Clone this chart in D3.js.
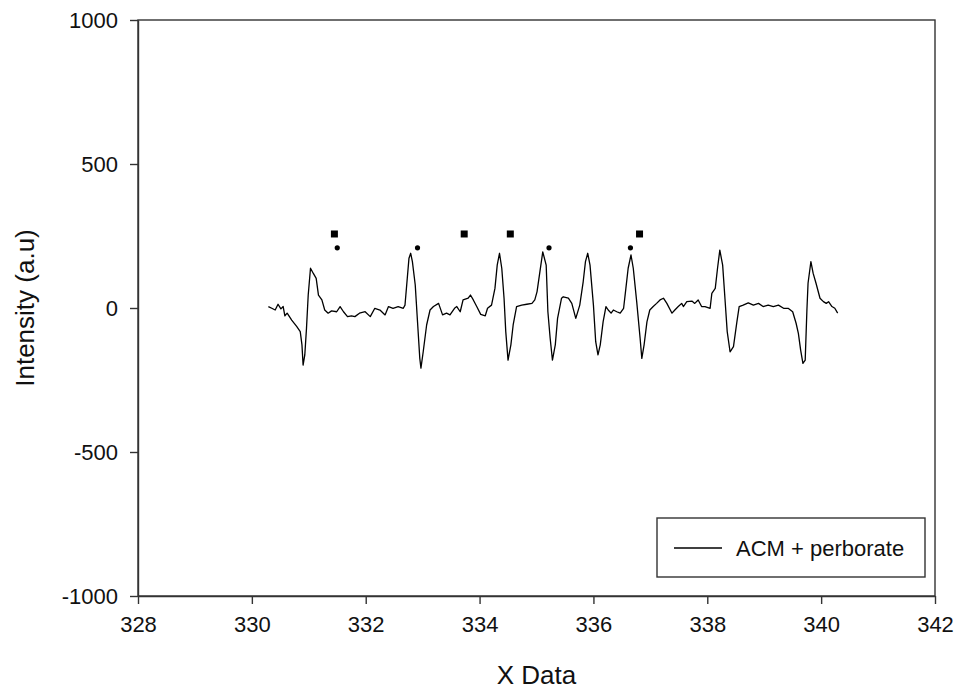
<!DOCTYPE html>
<html>
<head>
<meta charset="utf-8">
<script src="https://cdn.jsdelivr.net/npm/d3@7"></script>
<style>
  body { margin: 0; background: #fff; }
  svg { display: block; font-family: "Liberation Sans", Arial, sans-serif; }
  .axis path, .axis line { stroke: #333; stroke-width: 1.4px; }
  .axis text { fill: #111; font-size: 22px; }
</style>
</head>
<body>
<div id="chart"></div>
<script>
// spectrum trace
const fieldX = [
  330.29, 330.35, 330.41, 330.46, 330.51, 330.55, 330.58, 330.62, 330.70, 330.79,
  330.85, 330.88, 330.90, 330.93, 330.96, 330.99, 331.03, 331.08, 331.13, 331.17,
  331.23, 331.28, 331.34, 331.40, 331.49, 331.55, 331.61, 331.68, 331.75, 331.81,
  331.89, 331.99, 332.08, 332.16, 332.25, 332.34, 332.40, 332.48, 332.57, 332.66,
  332.69, 332.72, 332.76, 332.79, 332.82, 332.87, 332.91, 332.95, 332.97, 333.01,
  333.07, 333.13, 333.19, 333.28, 333.35, 333.42, 333.48, 333.56, 333.60, 333.66,
  333.71, 333.80, 333.84, 333.89, 333.95, 334.02, 334.10, 334.14, 334.21, 334.27,
  334.31, 334.35, 334.39, 334.43, 334.46, 334.50, 334.55, 334.59, 334.65, 334.74,
  334.83, 334.92, 334.97, 335.01, 335.06, 335.11, 335.17, 335.20, 335.24, 335.28,
  335.33, 335.37, 335.44, 335.47, 335.56, 335.62, 335.69, 335.76, 335.82, 335.86,
  335.90, 335.94, 336.00, 336.04, 336.08, 336.12, 336.17, 336.22, 336.26, 336.31,
  336.35, 336.41, 336.47, 336.53, 336.57, 336.61, 336.66, 336.70, 336.76, 336.82,
  336.85, 336.89, 336.94, 336.99, 337.05, 337.11, 337.17, 337.23, 337.29, 337.38,
  337.43, 337.49, 337.55, 337.58, 337.64, 337.73, 337.78, 337.84, 337.90, 337.96,
  338.05, 338.08, 338.14, 338.18, 338.22, 338.27, 338.31, 338.35, 338.40, 338.46,
  338.52, 338.56, 338.63, 338.72, 338.81, 338.90, 338.98, 339.07, 339.16, 339.25,
  339.34, 339.42, 339.50, 339.56, 339.60, 339.64, 339.68, 339.72, 339.75, 339.77,
  339.82, 339.86, 339.91, 339.98, 340.04, 340.09, 340.13, 340.19, 340.24, 340.29
];
const intensity = [
     5,   -1,   -7,   13,   -3,    5,  -27,  -18,  -42,  -65,
   -82, -128, -198, -163,  -70,   45,  138,  120,  103,   45,
    28,   -7,  -18,  -10,  -13,    5,  -13,  -30,  -27,  -30,
   -18,  -13,  -30,   -1,   -7,  -24,    5,   -1,    5,   -1,
    10,   80,  173,  190,  161,   80,  -48, -175, -209, -152,
   -59,   -7,    5,   16,  -24,  -18,  -24,   -1,    5,  -13,
    28,   34,   45,   28,    5,  -22,  -27,   -1,   10,   68,
   149,  190,  138,   34,  -82, -181, -128,  -59,    5,   10,
    13,   16,   28,   57,  126,  195,  149,  -13, -105, -181,
  -128,  -36,   34,   39,   34,   16,  -36,   10,   91,  161,
   190,  149,   10, -117, -163, -128,  -48,    5,   -7,  -18,
    -7,  -13,  -18,   -1,   68,  138,  184,  138,   22, -105,
  -175, -128,  -48,   -7,    5,   16,   28,   34,   16,  -18,
    -7,    5,   16,    5,   22,   24,   16,   28,    5,    5,
    -1,   51,   68,  138,  201,  149,   34,  -82, -152, -134,
   -48,    5,   10,   18,   10,   16,    5,   10,    5,   10,
    -1,   -1,  -13,  -53,  -88, -146, -192, -181,   -7,   86,
   161,  120,   86,   34,   22,   16,   22,    5,   -1,  -18
];

// marker symbols above the lines
const squareX = [331.45, 333.73, 334.54, 336.81];
const squareY = [257, 257, 257, 257];
const dotX = [331.50, 332.91, 335.22, 336.65];
const dotY = [209, 209, 209, 209];

const xTicks = [328, 330, 332, 334, 336, 338, 340, 342];
const yTicks = [-1000, -500, 0, 500, 1000];
const seriesName = 'ACM + perborate';

function drawChart() {
    const width = 960;
    const height = 693;
    const plot = { left: 138, right: 935, top: 20, bottom: 596 };

    const svg = d3.select('#chart')
        .append('svg')
        .attr('width', width)
        .attr('height', height);

    const x = d3.scaleLinear().domain([328, 342]).range([plot.left, plot.right]);
    const y = d3.scaleLinear().domain([-1000, 1000]).range([plot.bottom, plot.top]);

    // plain labels, ascii minus, no thousands separator
    const plain = d => String(d);

    // frame
    svg.append('rect')
        .attr('x', plot.left)
        .attr('y', plot.top)
        .attr('width', plot.right - plot.left)
        .attr('height', plot.bottom - plot.top)
        .attr('fill', 'none')
        .attr('stroke', '#333')
        .attr('stroke-width', 1.4);

    svg.append('g')
        .attr('class', 'axis')
        .attr('transform', `translate(${plot.left},0)`)
        .call(d3.axisLeft(y).tickValues(yTicks).tickFormat(plain)
            .tickSize(8).tickSizeOuter(0).tickPadding(12));

    svg.append('g')
        .attr('class', 'axis')
        .attr('transform', `translate(0,${plot.bottom})`)
        .call(d3.axisBottom(x).tickValues(xTicks).tickFormat(plain)
            .tickSize(8).tickSizeOuter(0).tickPadding(12));

    // axis titles
    svg.append('text')
        .attr('x', (plot.left + plot.right) / 2)
        .attr('y', 684)
        .attr('text-anchor', 'middle')
        .attr('font-size', '26px')
        .attr('fill', '#111')
        .text('X Data');

    svg.append('text')
        .attr('transform', `translate(34,${(plot.top + plot.bottom) / 2}) rotate(-90)`)
        .attr('text-anchor', 'middle')
        .attr('font-size', '26px')
        .attr('fill', '#111')
        .text('Intensity (a.u)');

    // spectrum
    const points = fieldX.map((v, i) => [v, intensity[i]]);
    const line = d3.line().x(d => x(d[0])).y(d => y(d[1]));
    svg.append('path')
        .datum(points)
        .attr('d', line)
        .attr('fill', 'none')
        .attr('stroke', '#000')
        .attr('stroke-width', 1.3)
        .attr('stroke-linejoin', 'round');

    // markers
    svg.selectAll('.sq')
        .data(squareX.map((v, i) => [v, squareY[i]]))
        .enter()
        .append('rect')
        .attr('class', 'sq')
        .attr('x', d => x(d[0]) - 3.5)
        .attr('y', d => y(d[1]) - 3.5)
        .attr('width', 7)
        .attr('height', 7)
        .attr('fill', '#000');

    svg.selectAll('.dot')
        .data(dotX.map((v, i) => [v, dotY[i]]))
        .enter()
        .append('circle')
        .attr('class', 'dot')
        .attr('cx', d => x(d[0]))
        .attr('cy', d => y(d[1]))
        .attr('r', 2.6)
        .attr('fill', '#000');

    // legend
    const legend = svg.append('g').attr('transform', 'translate(657,518)');
    legend.append('rect')
        .attr('width', 268)
        .attr('height', 59)
        .attr('fill', '#fff')
        .attr('stroke', '#333')
        .attr('stroke-width', 1.4);
    legend.append('line')
        .attr('x1', 17).attr('x2', 65)
        .attr('y1', 30).attr('y2', 30)
        .attr('stroke', '#000')
        .attr('stroke-width', 1.3);
    legend.append('text')
        .attr('x', 79)
        .attr('y', 38)
        .attr('font-size', '22px')
        .attr('fill', '#111')
        .text(seriesName);
}

document.addEventListener('DOMContentLoaded', drawChart);
</script>
</body>
</html>
